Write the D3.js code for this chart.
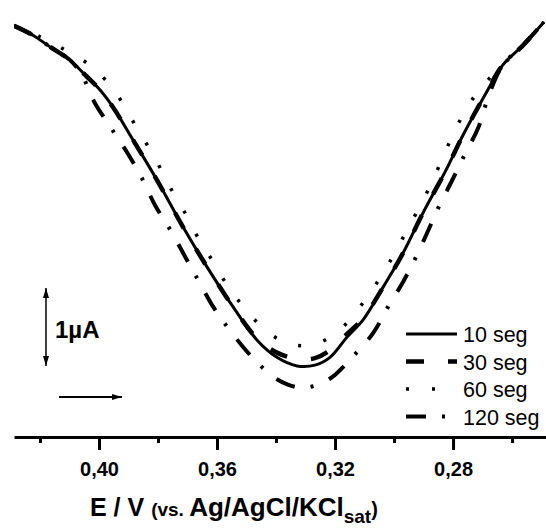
<!DOCTYPE html>
<html lang="es">
<head>
<meta charset="UTF-8">
<title>Voltamogramas</title>
<script src="https://d3js.org/d3.v7.min.js"></script>
<style>
    body { margin: 0; background: #fff; }
    svg { display: block; font-family: "Liberation Sans", Arial, sans-serif; }
    .axis path, .axis line { stroke: #000; }
    .axis text { font-size: 20px; font-weight: bold; fill: #000; }
</style>
</head>
<body>
<div id="chart"></div>
<script>
// potential (V) and current (uA, arbitrary offset) for each deposition time
const e10 = [0.4288, 0.4224, 0.4166, 0.4098, 0.4047, 0.3997, 0.3953, 0.3885, 0.3803, 0.3715, 0.3634, 0.3546, 0.3464, 0.3397, 0.3329, 0.3268, 0.3217, 0.3159, 0.3105, 0.3037, 0.2969, 0.2902, 0.2824, 0.2766, 0.2688, 0.2631, 0.2563, 0.2492];
const i10 = [5.31, 5.19, 5.04, 4.87, 4.68, 4.49, 4.27, 3.85, 3.33, 2.73, 2.22, 1.71, 1.28, 1.06, 0.95, 0.96, 1.06, 1.32, 1.54, 1.96, 2.40, 2.91, 3.46, 3.91, 4.45, 4.81, 5.06, 5.36];

const e30 = [0.4288, 0.4224, 0.4166, 0.4098, 0.4047, 0.3997, 0.3953, 0.3885, 0.3803, 0.3715, 0.3634, 0.3546, 0.3464, 0.3397, 0.3329, 0.3268, 0.3217, 0.3159, 0.3105, 0.3037, 0.2969, 0.2902, 0.2824, 0.2766, 0.2688, 0.2631, 0.2563, 0.2492];
const i30 = [5.31, 5.19, 5.04, 4.87, 4.68, 4.49, 4.27, 3.85, 3.33, 2.73, 2.22, 1.71, 1.30, 1.12, 1.04, 1.05, 1.15, 1.36, 1.56, 1.96, 2.40, 2.91, 3.46, 3.91, 4.45, 4.81, 5.06, 5.36];

const e60 = [0.4288, 0.4200, 0.4115, 0.4047, 0.4007, 0.3946, 0.3895, 0.3847, 0.3800, 0.3756, 0.3708, 0.3664, 0.3614, 0.3563, 0.3502, 0.3424, 0.3342, 0.3258, 0.3173, 0.3105, 0.3047, 0.3000, 0.2956, 0.2912, 0.2871, 0.2834, 0.2797, 0.2753, 0.2702, 0.2631, 0.2563, 0.2492];
const i60 = [5.31, 5.17, 5.00, 4.85, 4.73, 4.47, 4.15, 3.85, 3.54, 3.22, 2.91, 2.59, 2.29, 1.97, 1.67, 1.37, 1.22, 1.24, 1.45, 1.76, 2.08, 2.38, 2.69, 3.00, 3.31, 3.63, 3.94, 4.26, 4.53, 4.81, 5.06, 5.36];

const e120 = [0.4288, 0.4224, 0.4166, 0.4098, 0.4058, 0.4014, 0.3959, 0.3902, 0.3851, 0.3810, 0.3756, 0.3708, 0.3661, 0.3610, 0.3549, 0.3478, 0.3397, 0.3312, 0.3224, 0.3142, 0.3071, 0.3020, 0.2969, 0.2925, 0.2885, 0.2847, 0.2803, 0.2759, 0.2715, 0.2675, 0.2631, 0.2563, 0.2492];
const i120 = [5.31, 5.19, 5.04, 4.87, 4.68, 4.32, 4.00, 3.67, 3.33, 3.01, 2.68, 2.35, 2.03, 1.69, 1.37, 1.05, 0.78, 0.67, 0.77, 1.06, 1.37, 1.71, 2.03, 2.35, 2.68, 3.00, 3.33, 3.67, 4.00, 4.46, 4.81, 5.06, 5.36];

const seriesLabels = ["10 seg", "30 seg", "60 seg", "120 seg"];
const majorTicks = [0.40, 0.36, 0.32, 0.28];
const minorTicks = [0.42, 0.38, 0.34, 0.30, 0.26];

const width = 546, height = 528;
const axisY = 437;

const svg = d3.select("#chart").append("svg")
    .attr("width", width)
    .attr("height", height);

// reversed potential axis, 1 uA = 78 px
const x = d3.scaleLinear().domain([0.4288, 0.2485]).range([14, 546]);
const y = d3.scaleLinear().domain([0, 5.641]).range([440, 0]);

svg.append("defs").append("clipPath").attr("id", "clip")
    .append("rect").attr("x", 14).attr("y", 0).attr("width", 532).attr("height", axisY);

const series = [
    { label: seriesLabels[0], e: e10, i: i10, dash: null, w: 3 },
    { label: seriesLabels[1], e: e30, i: i30, dash: "18,24", w: 4.5 },
    { label: seriesLabels[2], e: e60, i: i60, dash: "3,23", w: 3.5 },
    { label: seriesLabels[3], e: e120, i: i120, dash: "20,16,3,17", w: 4 }
];

const line = d3.line()
    .x(d => x(d[0]))
    .y(d => y(d[1]))
    .curve(d3.curveCatmullRom);

const plot = svg.append("g").attr("clip-path", "url(#clip)");
series.forEach(s => {
    plot.append("path")
        .datum(d3.zip(s.e, s.i))
        .attr("fill", "none")
        .attr("stroke", "#000")
        .attr("stroke-width", s.w)
        .attr("stroke-dasharray", s.dash)
        .attr("d", line);
});

// x axis: major ticks with labels, minor ticks without
const fmt = d => d3.format(".2f")(d).replace(".", ",");
const axis = svg.append("g")
    .attr("class", "axis")
    .attr("transform", `translate(0,${axisY})`)
    .call(d3.axisBottom(x).tickValues(majorTicks).tickFormat(fmt)
        .tickSize(13).tickSizeOuter(0).tickPadding(12));
axis.select(".domain").attr("stroke-width", 3);
axis.selectAll(".tick line").attr("stroke-width", 3);

const minor = svg.append("g")
    .attr("class", "axis")
    .attr("transform", `translate(0,${axisY})`)
    .call(d3.axisBottom(x).tickValues(minorTicks).tickFormat("").tickSize(6).tickSizeOuter(0));
minor.select(".domain").remove();
minor.selectAll(".tick line").attr("stroke-width", 3);

// axis title
const title = svg.append("text")
    .attr("x", 90).attr("y", 516)
    .attr("font-weight", "bold");
title.append("tspan").attr("font-size", 25).text("E / V ");
title.append("tspan").attr("font-size", 19).text("(vs. ");
title.append("tspan").attr("font-size", 26).text("Ag/AgCl/KCl");
title.append("tspan").attr("font-size", 19).attr("dy", 7).text("sat");
title.append("tspan").attr("font-size", 20).attr("dy", -7).text(")");

// legend
const legend = svg.append("g");
series.forEach((s, k) => {
    const ly = 334 + k * 27.5;
    legend.append("line")
        .attr("x1", 406).attr("x2", 457)
        .attr("y1", ly).attr("y2", ly)
        .attr("stroke", "#000")
        .attr("stroke-width", s.w)
        .attr("stroke-dasharray", s.dash);
    legend.append("text")
        .attr("x", 463).attr("y", ly + 8)
        .attr("font-size", 21.5)
        .text(s.label);
});

// scale bar and scan direction arrows
const defs = svg.select("defs");
defs.append("marker").attr("id", "head")
    .attr("viewBox", "0 0 10 6").attr("refX", 10).attr("refY", 3)
    .attr("markerWidth", 10).attr("markerHeight", 6)
    .attr("markerUnits", "userSpaceOnUse")
    .attr("orient", "auto-start-reverse")
    .append("path").attr("d", "M0,0L10,3L0,6Z").attr("fill", "#000");

svg.append("line")
    .attr("x1", 46).attr("x2", 46)
    .attr("y1", y(1.95)).attr("y2", y(0.95))
    .attr("stroke", "#000").attr("stroke-width", 1.5)
    .attr("marker-start", "url(#head)")
    .attr("marker-end", "url(#head)");
svg.append("text")
    .attr("x", 55).attr("y", 338)
    .attr("font-size", 24).attr("font-weight", "bold")
    .text("1\u00b5A");

svg.append("line")
    .attr("x1", 59).attr("x2", 122)
    .attr("y1", 397).attr("y2", 397)
    .attr("stroke", "#000").attr("stroke-width", 2)
    .attr("marker-end", "url(#head)");
</script>
</body>
</html>
